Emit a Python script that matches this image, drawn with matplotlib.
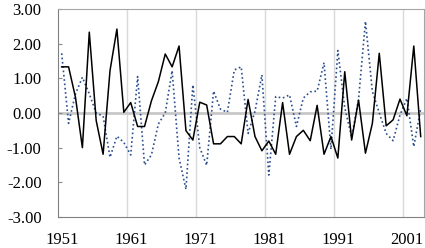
import numpy as np
import matplotlib.pyplot as plt

# values, one per year 1951-2003
years = np.arange(1951, 2004)
solid = [1.33, 1.33, 0.45, -1.00, 2.33, -0.22, -1.19, 1.22, 2.42, 0.02,
         0.30, -0.39, -0.39, 0.35, 0.90, 1.70, 1.33, 1.93, -0.51, -0.78,
         0.31, 0.23, -0.89, -0.89, -0.68, -0.68, -0.89, 0.39, -0.68, -1.09,
         -0.81, -1.19, 0.30, -1.19, -0.68, -0.50, -0.80, 0.22, -1.19, -0.68,
         -1.30, 1.19, -0.78, 0.37, -1.16, -0.30, 1.72, -0.37, -0.20, 0.40,
         -0.08, 1.93, -0.68]
dotted = [1.72, -0.30, 0.55, 1.03, 0.55, 0.00, -0.09, -1.28, -0.67, -0.85,
          -1.21, 1.05, -1.50, -1.21, -0.32, 0.00, 1.22, -1.30, -2.20, 0.81,
          -1.00, -1.51, 0.63, 0.11, 0.02, 1.24, 1.33, -0.59, 0.05, 1.10,
          -1.79, 0.47, 0.43, 0.52, -0.39, 0.43, 0.61, 0.63, 1.45, -1.05,
          1.80, 0.15, -0.70, 0.40, 2.64, 0.62, 0.00, -0.59, -0.80, -0.06,
          0.42, -0.97, 0.13]
xlabels = ['1951', '1961', '1971', '1981', '1991', '2001']
ylabels = ['3.00', '2.00', '1.00', '0.00', '-1.00', '-2.00', '-3.00']

plt.rcParams['font.family'] = ['Liberation Serif', 'DejaVu Serif']

fig = plt.figure(figsize=(4.25, 2.48), dpi=100)
ax = fig.add_axes([0.137, 0.125, 0.861, 0.839])

# category style grid: lines between the decade groups
for g in np.arange(1960.5, 2003, 10):
    ax.axvline(g, color='#d9d9d9', lw=1, zorder=0)
ax.axhline(0, color='#c8c8c8', lw=2, zorder=1)

ax.plot(years, dotted, color='#2b4f8c', lw=1.2, linestyle=(0, (1, 1.6)), zorder=2)
ax.plot(years, solid, color='black', lw=1.1, zorder=3)

ax.set_xlim(1950.5, 2003.5)
ax.set_ylim(-3, 3)
ax.set_xticks([int(s) for s in xlabels])
ax.set_xticklabels(xlabels)
ax.set_yticks([float(s) for s in ylabels])
ax.set_yticklabels(ylabels)
ax.tick_params(axis='x', length=0, pad=11, labelsize=12)
ax.tick_params(axis='y', direction='in', length=3, color='#8c8c8c', pad=12, labelsize=12)

for side in ax.spines:
    ax.spines[side].set_color('#a6a6a6')
ax.spines['left'].set_color('#808080')
ax.spines['bottom'].set_color('#808080')

fig.savefig('out.png', dpi=100)
